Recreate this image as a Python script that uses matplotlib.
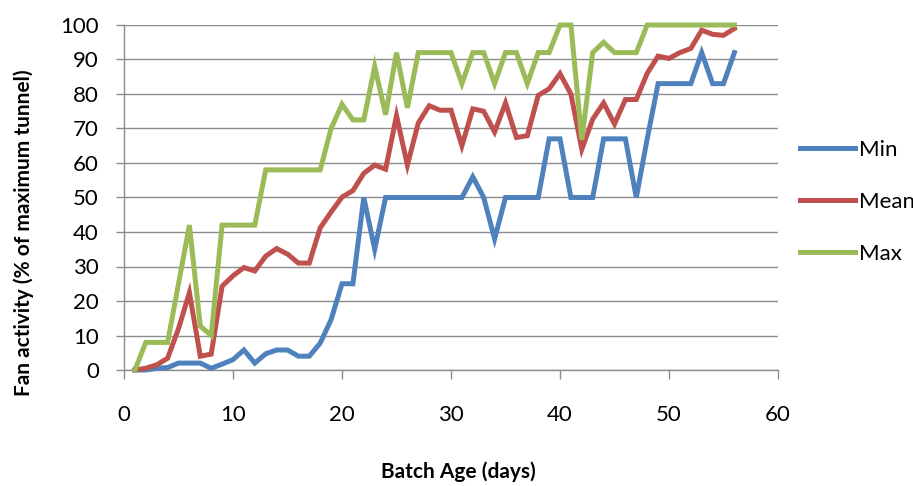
import matplotlib
matplotlib.use("Agg")
import matplotlib.pyplot as plt

days = list(range(1, 57))

min_vals = [0, 0, 0.5, 0.7, 2, 2, 2, 0.5, 1.7, 3,
            5.8, 2, 4.7, 5.8, 5.8, 4, 4, 7.8, 14.6, 25,
            25, 50, 35, 50, 50, 50, 50, 50, 50, 50,
            50, 56, 50, 38, 50, 50, 50, 50, 67, 67,
            50, 50, 50, 67, 67, 67, 50, 67, 83, 83,
            83, 83, 92, 83, 83, 92]

mean_vals = [0, 0.5, 1.5, 3.4, 12, 22.4, 4, 4.6, 24.3, 27.3,
             29.7, 28.7, 33, 35.2, 33.6, 31, 31, 41.2, 45.8, 50.1,
             52, 57, 59.4, 58.2, 73.7, 59.4, 71.6, 76.6, 75.3, 75.3,
             65, 75.7, 75, 69, 77.4, 67.4, 67.9, 79.6, 81.5, 85.9,
             80, 64, 72.7, 77.4, 71.3, 78.4, 78.4, 86, 91, 90.3,
             92, 93.2, 98.5, 97.3, 97, 99]

max_vals = [0, 8, 8, 8, 25, 42, 12.7, 10, 42, 42,
            42, 42, 58, 58, 58, 58, 58, 58, 70, 77,
            72.5, 72.5, 88, 74, 92, 76, 92, 92, 92, 92,
            83, 92, 92, 83, 92, 92, 83, 92, 92, 100,
            100, 66.7, 92, 95, 92, 92, 92, 100, 100, 100,
            100, 100, 100, 100, 100, 100]

series = [("Min", min_vals, "#4F81BD"),
          ("Mean", mean_vals, "#C0504D"),
          ("Max", max_vals, "#9BBB59")]

plt.rcParams["font.family"] = ["Lato", "DejaVu Sans"]

fig = plt.figure(figsize=(9.13, 4.86), dpi=100)
ax = fig.add_axes([124 / 913, 1 - 370 / 486, 654 / 913, 345 / 486])

for name, vals, color in series:
    ax.plot(days, vals, color=color, lw=3.6, label=name,
            solid_joinstyle="miter", clip_on=False, zorder=3)

ax.set_xlim(0, 60)
ax.set_ylim(0, 100)
ax.set_xticks(range(0, 61, 10))
ax.set_yticks(range(0, 101, 10))
ax.yaxis.grid(True, color="#8c8c8c", lw=1.0)
ax.set_axisbelow(True)

for side in ["top", "right"]:
    ax.spines[side].set_visible(False)
for side in ["left", "bottom"]:
    ax.spines[side].set_color("#8c8c8c")
    ax.spines[side].set_linewidth(1.0)

ax.tick_params(axis="x", direction="out", length=6.5, width=1, color="#8c8c8c",
               pad=19, labelsize=16)
ax.tick_params(axis="y", direction="out", length=6, width=1, color="#8c8c8c",
               pad=12, labelsize=16)

ax.legend(loc="center left", bbox_to_anchor=(1.034, 0.487), frameon=False,
          fontsize=16, handlelength=2.48, handletextpad=0.15,
          labelspacing=1.43, borderpad=0, borderaxespad=0)

fig.text(24 / 913, 1 - 233 / 486, "Fan activity (% of maximum tunnel)",
         rotation=90, ha="center", va="center", fontsize=15,
         fontweight="bold")
fig.text(458 / 913, 1 - 472 / 486, "Batch Age (days)", ha="center",
         va="center", fontsize=15, fontweight="bold")

fig.savefig("out.png", dpi=100)
